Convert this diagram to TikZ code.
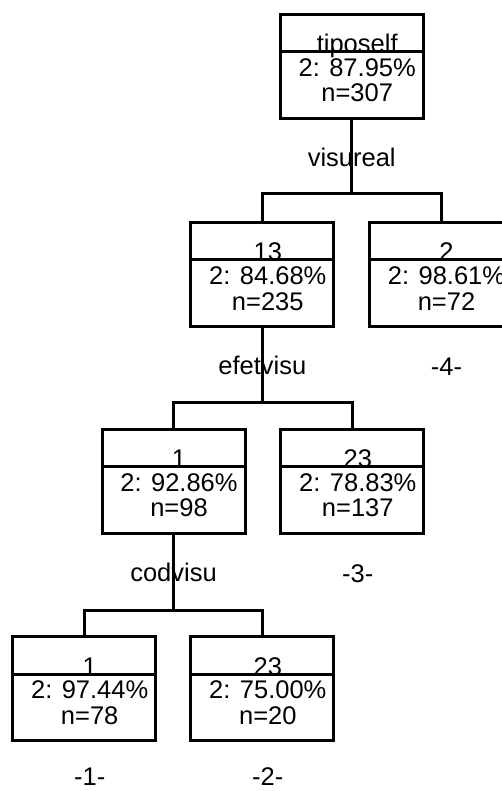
\documentclass[tikz,border=0pt]{standalone}
\usepackage{fontspec}
\setmainfont{Liberation Sans}
\begin{document}
\begin{tikzpicture}[x=1pt,y=-1pt,
  line width=3pt, line join=miter,
  tbox/.style={draw, rectangle, minimum width=143pt, minimum height=104pt,
    inner sep=0pt, anchor=north},
  txt/.style={inner sep=0pt, anchor=base,
    font=\fontsize{25.5}{30}\selectfont}]
\useasboundingbox (0,0) rectangle (502,791);

% one split box: header above the rule, share and count below it
\newcommand{\tnode}[6]{%
  \node[tbox] (#1) at (#2,#3) {};
  \draw ([yshift=-39pt]#1.north west) -- ([yshift=-39pt]#1.north east);
  \node[txt] (#1-h) at ([xshift=5.5pt,yshift=-40pt]#1.north) {#4};
  \node[txt] (#1-p) at ([xshift=5.5pt,yshift=-63.5pt]#1.north) {#5};
  \node[txt] (#1-n) at ([xshift=5.5pt,yshift=-89pt]#1.north) {#6};
}

\tnode{root}{351.7}{12.7}{tipoself}{2: 87.95\%}{n=307}
\tnode{a}{262.3}{221}{13}{2: 84.68\%}{n=235}
\tnode{b}{441}{221}{2}{2: 98.61\%}{n=72}
\tnode{c}{173.5}{427.5}{1}{2: 92.86\%}{n=98}
\tnode{d}{352.3}{427.5}{23}{2: 78.83\%}{n=137}
\tnode{e}{84.2}{635}{1}{2: 97.44\%}{n=78}
\tnode{f}{262.3}{635}{23}{2: 75.00\%}{n=20}

% split variables
\node[txt] (s1) at (351.7,166.7) {visureal};
\node[txt] (s2) at (262.3,374.5) {efetvisu};
\node[txt] (s3) at (173.5,581.7) {codvisu};

% terminal numbers
\node[txt] (t4) at (446.5,375) {-4-};
\node[txt] (t3) at (357.8,582) {-3-};
\node[txt] (t1) at (89.7,785) {-1-};
\node[txt] (t2) at (267.8,785) {-2-};

% branch joints
\coordinate (j1) at (351.7,194);
\coordinate (j2) at (262.3,402);
\coordinate (j3) at (173.5,610);

\draw (root.south) -- (j1);
\draw (a.north) |- (j1) -| (b.north);
\draw (a.south) -- (j2);
\draw (c.north) |- (j2) -| (d.north);
\draw (c.south) -- (j3);
\draw (e.north) |- (j3) -| (f.north);
\end{tikzpicture}
\end{document}
